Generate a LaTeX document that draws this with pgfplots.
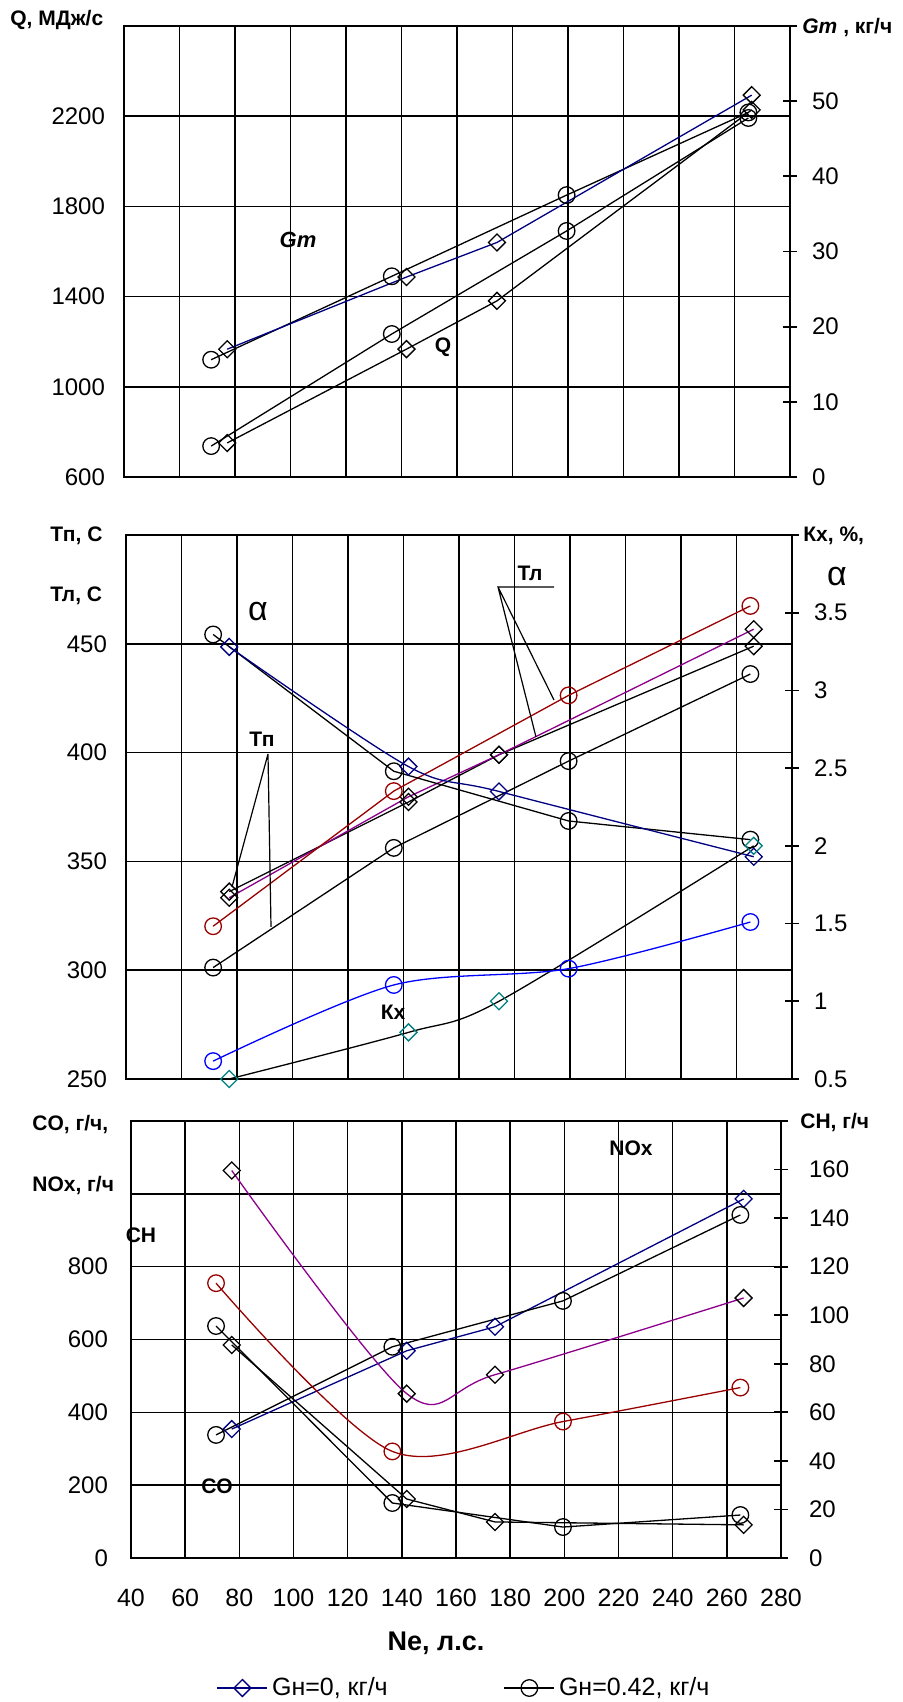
\documentclass[border=0pt]{standalone}
\usepackage{fontspec}
\setmainfont{Liberation Sans}
\usepackage{pgfplots}
\pgfplotsset{compat=1.18}

\definecolor{navyline}{RGB}{0,0,128}
\definecolor{kxblue}{RGB}{0,0,255}
\definecolor{tred}{RGB}{153,0,0}
\definecolor{tpurple}{RGB}{140,0,140}
\definecolor{kxteal}{RGB}{0,128,128}

\pgfplotsset{
  base/.style={scale only axis, clip=false, xmin=40, xmax=280, xtick={40,60,...,280},
    /pgf/number format/assume math mode=true,
    tick label style={font=\fontsize{12}{14}\selectfont},
    axis line style={black, line width=1pt},
    every axis plot/.append style={line width=0.65pt}},
  leftax/.style={grid=major, major grid style={black, line width=0.8pt},
    tick style={draw=none}, yticklabel style={xshift=#1}},
  leftax/.default=-6pt,
  rightax/.style={axis x line=none, axis y line*=right, tick align=center,
    major tick length=7pt, ytick style={black, line width=0.9pt},
    yticklabel style={xshift=#1}},
  rightax/.default=4pt,
  dmk/.style={mark=square, mark size=3.0pt, mark options={rotate=45, solid, #1}},
  dmk/.default={},
  cmk/.style={mark=o, mark size=4.15pt, mark options={solid, #1}},
  cmk/.default={},
}

\begin{document}
\begin{tikzpicture}
\useasboundingbox (0,0) rectangle (451.5pt,851pt);

% ---------- heat release Q and fuel flow Gm
\begin{axis}[base, leftax, at={(62pt,612.5pt)}, anchor=south west, width=333pt, height=225.5pt,
  ymin=600, ymax=2600, ytick={600,1000,1400,1800,2200,2600},
  yticklabels={600,1000,1400,1800,2200,}, xticklabels={}]
  \addplot[black, dmk] coordinates {(77.2,751) (141.8,1167) (174.4,1381) (266.2,2228)};
  \addplot[black, cmk] coordinates {(71.4,737) (136.5,1234) (199.5,1691) (265.0,2192)};
\end{axis}
\begin{axis}[base, rightax, at={(62pt,612.5pt)}, anchor=south west, width=333pt, height=225.5pt,
  ymin=0, ymax=60, ytick={0,10,20,30,40,50,60}, yticklabels={0,10,20,30,40,50,}]
  \addplot[black, cmk] coordinates {(71.4,15.6) (136.5,26.7) (199.5,37.5) (265.0,48.5)};
  \addplot[navyline, dmk={draw=black}] coordinates {(77.2,17.0) (141.8,26.6) (174.4,31.2) (266.2,50.8)};
\end{axis}

% ---------- temperatures, Kx and alpha
\begin{axis}[base, leftax, at={(63pt,311.5pt)}, anchor=south west, width=333pt, height=272pt,
  ymin=250, ymax=500, ytick={250,300,350,400,450,500},
  yticklabels={250,300,350,400,450,}, xticklabels={}]
  \addplot[black, cmk] coordinates {(71.4,301.2) (136.5,356.2) (199.5,396.1) (265.0,436.1)};
  \addplot[black, dmk] coordinates {(77.2,336.1) (141.8,377.3) (174.4,399.0) (266.2,448.9)};
  \addplot[tpurple, dmk={draw=black}] coordinates {(77.2,333.3) (141.8,379.7) (174.4,399.0) (266.2,456.7)};
  \addplot[tred, cmk] coordinates {(71.4,320.2) (136.5,382.3) (199.5,426.3) (265.0,467.4)};
\end{axis}
\begin{axis}[base, rightax, at={(63pt,311.5pt)}, anchor=south west, width=333pt, height=272pt,
  ymin=0.5, ymax=4, ytick={0.5,1,1.5,2,2.5,3,3.5,4},
  yticklabels={0.5,1,1.5,2,2.5,3,3.5,}]
  \addplot[black, cmk] coordinates {(71.4,3.36) (136.5,2.48) (199.5,2.16) (265.0,2.04)};
  \addplot[navyline, smooth, dmk] coordinates {(77.2,3.28) (141.8,2.51) (174.4,2.35) (266.2,1.93)};
  \addplot[black, smooth, dmk={draw=kxteal}] coordinates {(77.2,0.5) (141.8,0.8) (174.4,1.0) (266.2,2.0)};
  \addplot[kxblue, smooth, cmk] coordinates {(71.4,0.615) (136.5,1.105) (199.5,1.21) (265.0,1.51)};
\end{axis}

% ---------- emissions NOx, CO and CH
\begin{axis}[base, leftax=-8pt, at={(65.5pt,72pt)}, anchor=south west, width=325pt, height=218.5pt,
  ymin=0, ymax=1200, ytick={0,200,400,600,800,1000,1200},
  yticklabels={0,200,400,600,800,,},
  xticklabel style={yshift=-12pt, font=\fontsize{12.5}{14}\selectfont},
  legend columns=2,
  legend style={at={(0.514,-0.2975)}, anchor=center, draw=none, fill=none,
    font=\fontsize{12.5}{14}\selectfont,
    /tikz/every even column/.append style={column sep=56pt}},
  legend image code/.code={\draw[mark repeat=2, mark phase=2, #1]
    plot coordinates {(0pt,0pt) (12.5pt,0pt) (25pt,0pt)};}]
  \addlegendimage{navyline, line width=0.65pt, dmk}
  \addlegendentry{Gн=0, кг/ч}
  \addlegendimage{black, line width=0.65pt, cmk}
  \addlegendentry{Gн=0.42, кг/ч}
  \addplot[navyline, dmk, forget plot] coordinates {(77.2,354) (141.8,569) (174.4,635) (266.2,986)};
  \addplot[black, cmk, forget plot] coordinates {(71.4,338) (136.5,580) (199.5,706) (265.0,942)};
  \addplot[black, dmk, forget plot] coordinates {(77.2,585) (141.8,162) (174.4,99) (266.2,91)};
  \addplot[black, cmk, forget plot] coordinates {(71.4,637) (136.5,151) (199.5,85) (265.0,118)};
\end{axis}
\begin{axis}[base, rightax=7pt, at={(65.5pt,72pt)}, anchor=south west, width=325pt, height=218.5pt,
  ymin=0, ymax=180, ytick={0,20,40,60,80,100,120,140,160,180},
  yticklabels={0,20,40,60,80,100,120,140,160,}]
  \addplot[tpurple, smooth, dmk={draw=black}] coordinates {(77.2,159.6) (141.8,67.7) (174.4,75.5) (266.2,107.1)};
  \addplot[tred, smooth, cmk] coordinates {(71.4,113.2) (136.5,43.9) (199.5,56.2) (265.0,70.2)};
\end{axis}

% ---------- axis titles and curve labels
\begin{scope}[x=0.5pt, y=-0.5pt, yshift=851pt,
  lab/.style={font=\bfseries\fontsize{10.5}{12}\selectfont, inner sep=0pt}]
  \node[lab, anchor=west] at (10,20) {Q, МДж/с};
  \node[lab, anchor=west] at (802,28) {\textit{Gm} , кг/ч};
  \node[lab, font=\bfseries\itshape\fontsize{11}{13}\selectfont] at (298,240) {Gm};
  \node[lab] at (443,347) {Q};

  \node[lab, anchor=west] at (50,536) {Тп, С};
  \node[lab, anchor=west] at (50,596) {Тл, С};
  \node[lab, anchor=west] at (803,536) {Кх, \%,};
  \node[font=\fontsize{17}{19}\selectfont, inner sep=0pt] at (837,577) {α};
  \node[font=\fontsize{17}{19}\selectfont, inner sep=0pt] at (258,612) {α};
  \node[lab] at (262,739) {Тп};
  \draw[line width=0.6pt] (268,754) -- (232,887) (268,754) -- (271,927);
  \node[lab] at (530,573) {Тл};
  \draw[line width=0.6pt] (554,587) -- (498,587) -- (554,700) (498,587) -- (536,737);
  \node[lab] at (393,1012) {Кх};

  \node[lab, anchor=west] at (32,1125) {CO, г/ч,};
  \node[lab, anchor=west] at (32,1186) {NOx, г/ч};
  \node[lab] at (141,1235) {CH};
  \node[lab] at (217,1486) {CO};
  \node[lab] at (631,1148) {NOx};
  \node[lab, anchor=west] at (800,1123) {СН, г/ч};
  \node[lab, font=\bfseries\fontsize{13.5}{15}\selectfont] at (436,1643) {Ne, л.с.};
\end{scope}
\end{tikzpicture}
\end{document}
